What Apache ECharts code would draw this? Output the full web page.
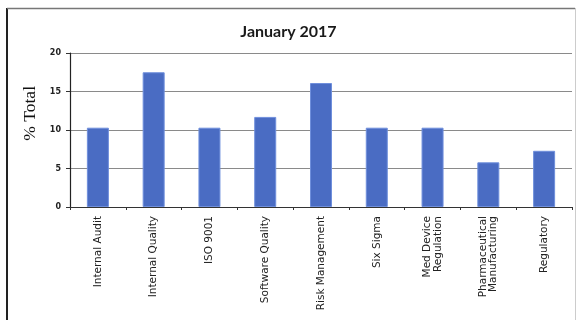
<!DOCTYPE html>
<html><head><meta charset="utf-8">
<script src="https://cdn.jsdelivr.net/npm/echarts@6/dist/echarts.min.js"></script>
<style>html,body{margin:0;padding:0;background:#fff}#c{width:577px;height:320px}</style>
</head><body><div id="c"></div>
<script>
const categories = ["Internal Audit","Internal Quality","ISO 9001","Software Quality","Risk Management","Six Sigma","Med Device\nRegulation","Pharmaceutical\nManufacturing","Regulatory"];
const values = [10.3, 17.5, 10.3, 11.7, 16.1, 10.3, 10.3, 5.8, 7.3];
const yTicks = [0, 5, 10, 15, 20];
const title = "January 2017";
const yName = "% Total";

const chart = echarts.init(document.getElementById('c'), null, {renderer:'canvas'});
chart.setOption({
  animation:false,
  backgroundColor:'#fff',
  title:{text:title,left:'center',top:19,textStyle:{fontFamily:'Lato',fontWeight:'bold',fontSize:16,color:'#1a1a1a'}},
  graphic:[
    {type:'line',shape:{x1:7,y1:8,x2:7,y2:320},style:{stroke:'#222',lineWidth:2},silent:true},
    {type:'line',shape:{x1:7,y1:8.5,x2:575,y2:8.5},style:{stroke:'#777',lineWidth:1.5},silent:true},
    {type:'line',shape:{x1:575.5,y1:8,x2:575.5,y2:320},style:{stroke:'#ccc',lineWidth:1},silent:true},
    {type:'text',left:21,top:86,style:{text:yName,fontFamily:'Liberation Serif',fontSize:17.5,fill:'#111'},rotation:Math.PI/2,silent:true}
  ],
  grid:{left:70,right:5,top:53,bottom:113},
  xAxis:{type:'category',data:categories,
    axisLine:{lineStyle:{color:'#333',width:1}},
    axisTick:{show:true,length:3,lineStyle:{color:'#333'}},
    axisLabel:{rotate:90,fontSize:10.5,fontFamily:'DejaVu Sans',color:'#222',margin:9,lineHeight:10.5,interval:0}},
  yAxis:{type:'value',min:yTicks[0],max:yTicks[yTicks.length-1],interval:5,
    axisLine:{show:true,lineStyle:{color:'#222',width:1.2}},
    axisTick:{show:true,length:4,lineStyle:{color:'#333'}},
    axisLabel:{fontSize:8,fontFamily:'DejaVu Sans',fontWeight:'bold',color:'#222',margin:9},
    splitLine:{lineStyle:{color:'#8a8a8a',width:1}}},
  series:[{type:'bar',data:values,barWidth:22,
    itemStyle:{color:'#4a6cc3',borderColor:'#6f8fdc',borderWidth:1}}]
});
</script></body></html>
